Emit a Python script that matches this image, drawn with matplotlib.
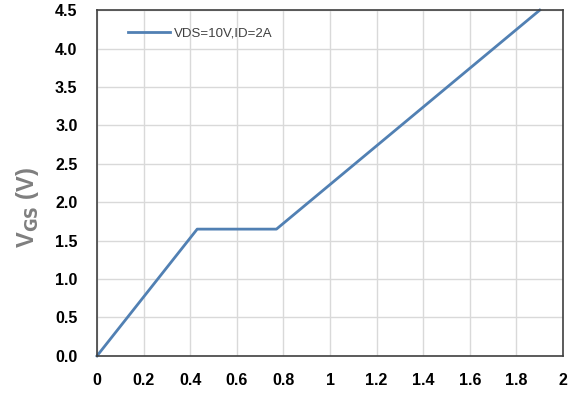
import matplotlib

matplotlib.use("Agg")
import matplotlib.pyplot as plt

# Gate charge curve: Qg (x) vs VGS (y)
QG = [0.0, 0.43, 0.77, 1.90]
VGS = [0.0, 1.65, 1.65, 4.5]
SERIES_LABEL = "VDS=10V,ID=2A"
X_TICKS = [0, 0.2, 0.4, 0.6, 0.8, 1, 1.2, 1.4, 1.6, 1.8, 2]
X_TICK_LABELS = ["0", "0.2", "0.4", "0.6", "0.8", "1", "1.2", "1.4", "1.6", "1.8", "2"]
Y_TICKS = [0.0, 0.5, 1.0, 1.5, 2.0, 2.5, 3.0, 3.5, 4.0, 4.5]

plt.rcParams["font.family"] = ["Liberation Sans", "DejaVu Sans"]

fig = plt.figure(figsize=(5.79, 4.04), dpi=100)
ax = fig.add_axes([0.1675, 0.119, 0.805, 0.856])

ax.plot(QG, VGS, color="#5180b3", linewidth=2.0, label=SERIES_LABEL, clip_on=False)

ax.set_xlim(0, 2)
ax.set_ylim(0, 4.5)
ax.set_xticks(X_TICKS)
ax.set_xticklabels(X_TICK_LABELS)
ax.set_yticks(Y_TICKS)
ax.set_yticklabels([f"{v:.1f}" for v in Y_TICKS])
for lab in ax.get_xticklabels() + ax.get_yticklabels():
    lab.set_fontweight("bold")
    lab.set_fontsize(11.5)
ax.tick_params(length=0, pad=14)
ax.tick_params(axis="x", pad=12)

ax.grid(True, color="#d9d9d9", linewidth=1.0)
ax.set_axisbelow(True)
for sp in ax.spines.values():
    sp.set_color("#404040")
    sp.set_linewidth(1.2)

ax.set_ylabel(r"V$_{\mathbf{GS}}$ (V)", fontsize=17, fontweight="bold",
              color="#7f7f7f")
ax.yaxis.set_label_coords(-0.12, 0.43)

leg = ax.legend(loc="upper left", frameon=False, fontsize=9.5,
                bbox_to_anchor=(0.04, 0.985), handlelength=3.2, handletextpad=0.3)
for t in leg.get_texts():
    t.set_color("#404040")

fig.savefig("out.png", dpi=100)
